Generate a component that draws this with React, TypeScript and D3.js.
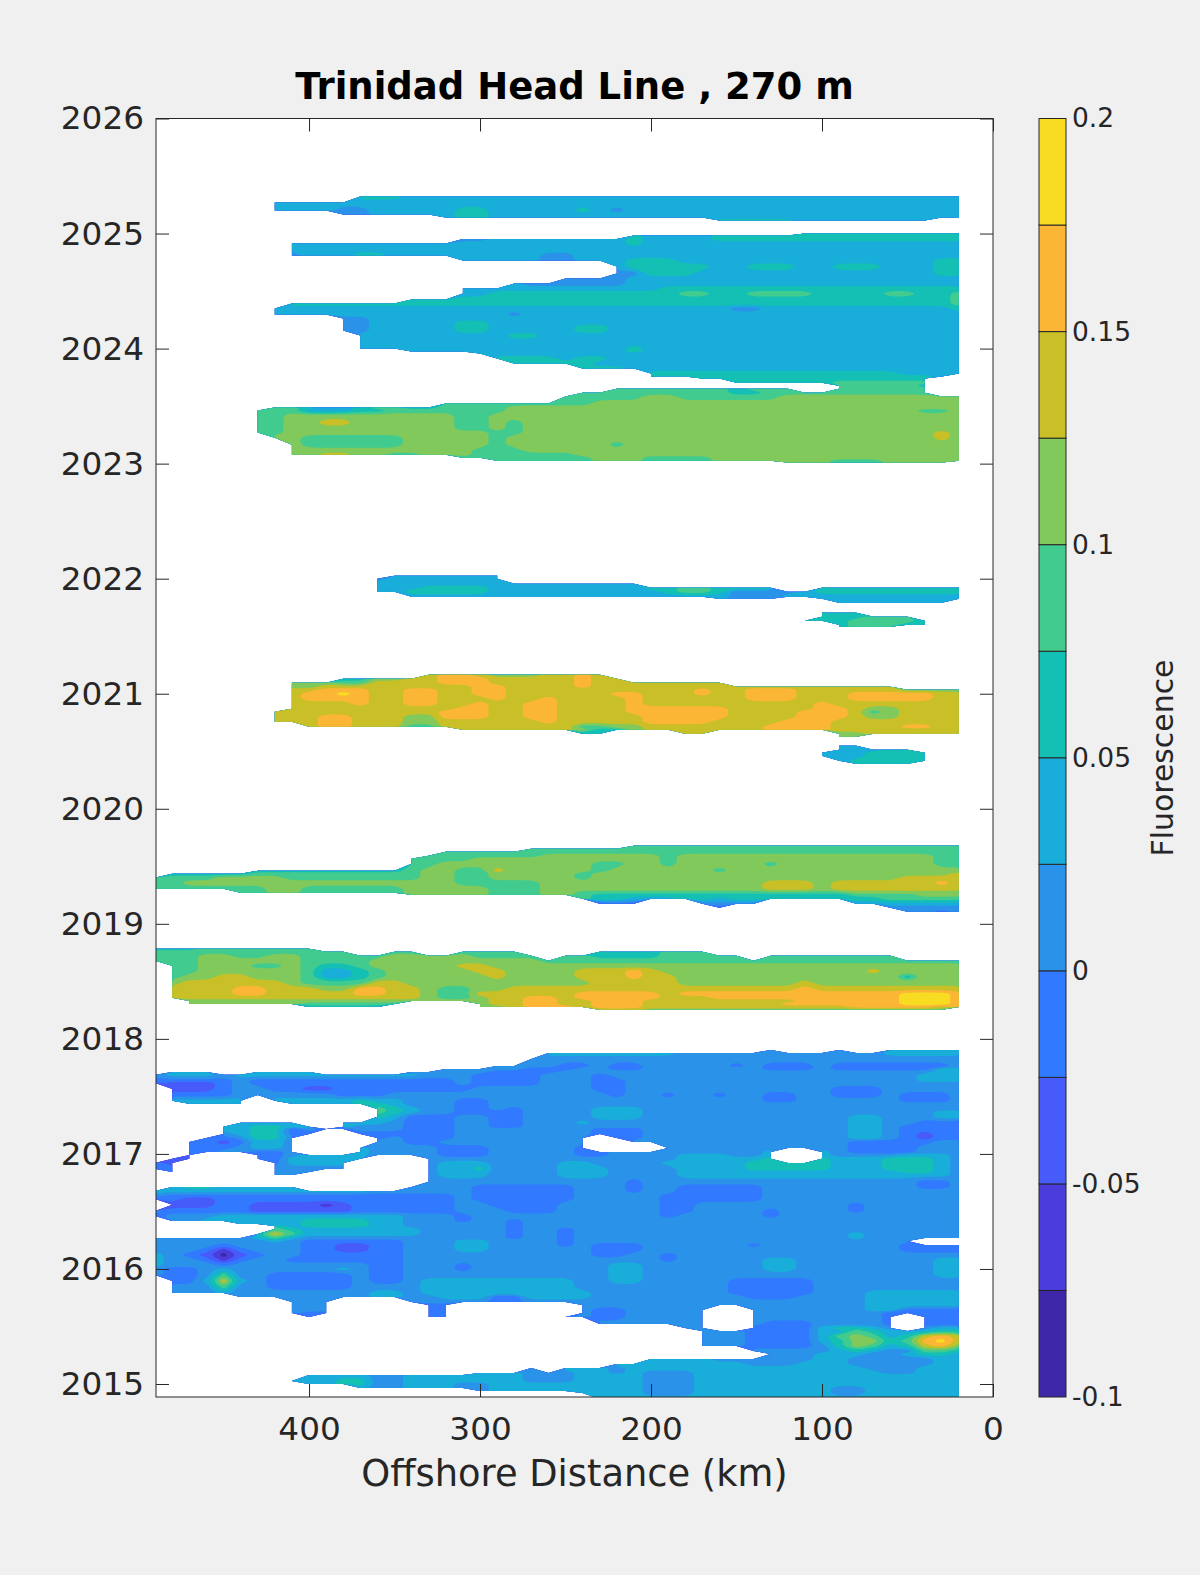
import React, { useEffect, useRef } from "react";
import * as d3 from "d3";

type Row = [number, string];

// Each row: [decimal year, "column:band" change points]. Column 0 is 490 km, column 47 is 20 km,
// one column every 10 km. "." means no data. A band char holds from its column until the next one.
const distanceStart = 490;
const distanceStep = 10;
const columnCount = 48;
const bandChars = "0123456789ab";

const levels = [-0.1, -0.075, -0.05, -0.025, 0, 0.025, 0.05, 0.075, 0.1, 0.125, 0.15, 0.175, 0.2];
const bandColors = [
  "#3e26a8", "#4a3ddc", "#475bfa", "#3179fe", "#2a92e8", "#18aed9",
  "#14bfb3", "#42cb8f", "#81c95a", "#c9bf26", "#fcb636", "#f7dc22",
];

const yearTicks = [2015, 2016, 2017, 2018, 2019, 2020, 2021, 2022, 2023, 2024, 2025, 2026];
const distanceTicks = [400, 300, 200, 100, 0];
const colorbarTicks = [-0.1, -0.05, 0, 0.05, 0.1, 0.15, 0.2];

const band2025: Row[] = [
  [2025.322, "12:6 15:5"],
  [2025.27, "7:5"],
  [2025.2, "7:5 11:4 13:5 18:6 20:5 25:6 26:5 27:4 28:5"],
  [2025.165, "11:4 13:5 18:6 20:5"],
  [2025.139, "17:5 18:6 20:5"],
  [2025.113, "33:6 38:5 46:."],
];

const band2024: Row[] = [
  [2025.0, "38:6"],
  [2024.983, "28:6 29:5 33:6"],
  [2024.952, "18:4 20:5 28:6 29:5 33:6"],
  [2024.913, "8:5 28:6 29:5"],
  [2024.861, "8:5"],
  [2024.809, "8:4 9:5 12:6 14:5 23:4 25:5"],
  [2024.765, "18:5 23:4 25:5 28:6 31:5 46:6"],
  [2024.713, "27:5 28:6 33:5 35:6 38:5 40:6 43:5 46:6"],
  [2024.652, "27:4 29:6 32:5 46:6"],
  [2024.609, "24:4 28:5"],
  [2024.565, "21:5 22:4 28:5"],
  [2024.522, "18:5 30:6"],
  [2024.478, "18:5 20:6 31:7 33:6 35:7 39:6 43:7 45:6 47:7"],
  [2024.426, "15:6 47:7"],
  [2024.391, "8:6 47:7"],
  [2024.348, "7:5 34:4 36:5 47:6"],
  [2024.296, "7:5 21:4 22:5"],
  [2024.261, "11:4 13:5"],
  [2024.226, "11:4 13:5 18:6 20:5"],
  [2024.191, "11:4 13:5 18:6 20:5 25:6 27:5"],
  [2024.157, "11:4 13:5 18:6 20:5 25:6 27:5"],
  [2024.113, "12:5 21:6 23:5"],
  [2024.061, "12:5"],
  [2024.0, "12:5 28:6 29:5"],
  [2023.974, "15:5 28:6 29:5"],
  [2023.957, "19:6 20:5"],
  [2023.913, "20:6 24:5 25:6 27:5"],
  [2023.87, "21:6 26:5"],
  [2023.826, "25:6 28:5"],
  [2023.783, "29:6 44:5"],
  [2023.757, "29:6 46:5 47:."],
  [2023.739, "32:6 46:."],
  [2023.704, "34:6 40:7 46:."],
  [2023.678, "40:7 45:6 46:."],
  [2023.652, "27:7 34:6 35:7 38:. 40:7 46:."],
  [2023.617, "25:7 34:6 36:7 46:."],
  [2023.583, "24:7 29:8 31:7 37:8"],
  [2023.522, "17:7 26:8"],
  [2023.487, "7:7 9:6 10:5 12:6 13:7 15:6 17:7 21:8"],
  [2023.461, "6:7 9:5 12:6 14:7 21:8 45:7 47:8"],
  [2023.417, "6:7 8:8 18:7 20:8"],
  [2023.357, "6:7 8:8 10:9 12:8 18:7 20:8 21:7 22:8"],
  [2023.304, "6:7 8:8 18:7 20:8 21:7 22:8"],
  [2023.27, "6:7 8:8 20:7 22:8 46:9 47:8"],
  [2023.226, "7:8 9:7 15:8 20:7 21:8 46:9 47:8"],
  [2023.165, "8:8 9:7 15:8 20:7 21:8 27:7 28:8"],
  [2023.113, "8:8 19:7 22:8"],
  [2023.078, "8:8 10:9 12:8 14:7 16:8 19:7 25:8"],
  [2023.052, "18:7 26:8 29:7 33:8"],
  [2023.026, "20:7 26:8 29:7 33:8 40:7 43:8"],
  [2023.009, "37:8 40:7 43:8 47:."],
];

const band2022: Row[] = [
  [2022.026, "14:5 21:."],
  [2022.0, "13:4 14:5 21:."],
  [2021.957, "13:5 29:."],
  [2021.922, "13:5 16:6 20:5 29:6 31:7 33:6 37:. 39:6"],
  [2021.887, "13:5 15:6 20:5 30:6 31:7 33:6 34:4 38:5 39:6"],
  [2021.843, "15:5 34:4 37:5"],
  [2021.826, "33:5 34:4 37:. 39:5"],
  [2021.791, "40:5 47:."],
];

const patch2021: Row[] = [
  [2021.704, "39:6 42:."],
  [2021.67, "39:6 42:7 45:."],
  [2021.635, "38:7 39:6 41:7 45:6 46:."],
  [2021.6, "40:6 41:7 44:6 46:."],
  [2021.583, "40:6 41:7 44:."],
];

const band2021: Row[] = [
  [2021.165, "16:9 17:a 19:9 20:8 23:9 25:a 26:9 27:."],
  [2021.13, "11:6 13:8 15:9 17:a 20:9 25:a 26:9 28:."],
  [2021.096, "8:8 11:7 13:9 17:a 20:9 25:a 26:9 34:."],
  [2021.061, "8:8 10:9 19:a 21:9 25:a 26:9 44:."],
  [2021.035, "8:9 10:a 13:9 15:a 17:9 19:a 21:9 32:a 33:9 35:a 38:9 44:8"],
  [2021.0, "8:9 9:a 11:b 12:a 13:9 15:a 17:9 19:a 21:9 27:a 29:9 32:a 33:9 35:a 38:9 41:a 46:9"],
  [2020.957, "8:9 9:a 13:9 15:a 17:9 20:a 21:9 23:a 24:9 28:a 29:9 35:a 38:9 41:a 46:9"],
  [2020.913, "8:9 12:a 13:9 15:a 17:9 19:a 20:9 22:a 24:9 28:a 29:9 39:a 40:9"],
  [2020.87, "8:9 18:a 20:9 22:a 24:9 28:a 34:9 39:a 41:9 42:8 44:9"],
  [2020.843, "7:9 17:a 20:9 22:a 24:9 28:a 34:9 38:a 41:9 42:7 43:8 44:9"],
  [2020.8, "7:9 10:a 12:9 15:8 17:a 20:9 22:a 24:9 29:a 34:9 38:a 41:9 42:8 44:9"],
  [2020.757, "7:9 10:a 12:9 15:8 17:9 23:a 24:9 29:a 33:9 37:a 40:9"],
  [2020.713, "9:9 10:a 12:9 15:7 17:9 25:7 27:8 29:9 36:a 40:9 44:a 46:9"],
  [2020.687, "18:9 25:8 26:6 28:8 29:9 36:a 40:9"],
  [2020.652, "25:6 27:. 31:9 33:. 40:8 42:9"],
  [2020.626, "40:8 42:."],
];

const patch2020: Row[] = [
  [2020.548, "40:5 42:."],
  [2020.513, "40:5 43:6 45:."],
  [2020.487, "39:5 42:6 46:."],
  [2020.461, "39:5 42:6 46:."],
  [2020.417, "40:5 41:6 46:."],
  [2020.391, "41:6 45:."],
];

const band2019: Row[] = [
  [2019.678, "28:7"],
  [2019.652, "22:7"],
  [2019.626, "17:7"],
  [2019.591, "16:7 23:8 30:7 31:8 46:7"],
  [2019.565, "15:7 19:8 30:7 31:8 46:7"],
  [2019.522, "15:7 17:8 26:7 28:8 30:7 31:8 36:7 37:8 46:7"],
  [2019.461, "6:6 15:7 16:8 18:7 20:9 21:8 26:7 27:8 33:7 34:8"],
  [2019.435, "1:6 6:7 16:8 18:7 20:8 25:7 26:8 47:9"],
  [2019.4, "0:7 4:8 8:7 16:8 18:7 20:8 25:7 26:8 44:9"],
  [2019.357, "0:7 2:8 18:7 23:8 36:9 39:8 40:9 46:a 47:9"],
  [2019.304, "0:7 7:8 9:7 15:8 20:7 23:8 36:9 39:8 40:9"],
  [2019.27, "5:7 7:8 9:7 15:8 20:7 23:8 25:7 41:8"],
  [2019.252, "15:8 20:7 23:8 25:7 26:6 41:7 45:8"],
  [2019.217, "25:7 26:6 28:5 31:6 33:5 34:6 43:7"],
  [2019.174, "26:3 29:. 32:4 36:. 41:5"],
  [2019.139, "33:3 34:. 43:4"],
  [2019.104, "44:4 46:3 47:4"],
];

const band2018: Row[] = [
  [2018.783, "0:6 3:7 10:."],
  [2018.757, "0:7 12:. 14:7 16:. 18:7 22:. 26:6 30:7 33:."],
  [2018.722, "0:7 3:8 5:7 7:8 9:7 14:8 19:7 23:. 24:7 26:6 30:7 35:. 36:7 44:."],
  [2018.678, "0:7 3:8 9:7 13:8 23:7"],
  [2018.635, "1:7 3:8 6:7 8:8 9:7 10:6 12:7 13:8 18:9 20:8"],
  [2018.591, "1:7 3:8 9:7 10:5 12:6 13:7 14:8 19:9 21:8 25:9 28:a 29:9 30:8 42:9 43:8"],
  [2018.539, "1:7 2:8 4:9 6:8 9:7 10:5 12:6 13:7 14:8 20:9 21:8 25:9 28:a 29:9 31:8 44:6 45:8"],
  [2018.487, "1:8 2:9 8:8 9:7 13:9 15:8 26:9 31:8 38:9 39:8"],
  [2018.435, "1:9 5:a 7:9 10:8 12:a 14:9 16:8 17:7 19:8 21:9 38:a 39:9"],
  [2018.391, "1:9 5:a 7:9 12:a 14:9 16:8 17:7 19:9 25:a 30:9 31:a 44:b 47:a"],
  [2018.357, "1:9 16:8 17:7 19:8 20:9 22:a 24:9 25:a 30:9 33:a 44:b 47:a"],
  [2018.33, "2:8 19:8 20:9 22:a 24:9 26:a 29:9 38:a 44:b 47:a"],
  [2018.304, "2:8 9:7 15:. 19:8 20:9 22:a 24:9 26:a 29:9 37:a 44:b 47:a"],
  [2018.278, "9:6 14:. 19:8 21:9 22:a 25:9 26:a 29:9 41:a 46:9 47:a"],
  [2018.252, "26:9 29:8 47:."],
];

const lower2017: Row[] = [
  [2017.904, "36:4 37:. 40:5 41:. 43:5"],
  [2017.878, "23:5 31:4 43:5"],
  [2017.826, "22:4"],
  [2017.765, "20:4 24:3 26:4 27:3 29:4 34:3 35:4 36:3 39:4 40:3 47:4"],
  [2017.739, "17:4 22:3 25:4 27:3 29:4 36:3 39:4 40:3 46:5"],
  [2017.713, "1:5 4:. 6:5 10:. 15:4 20:3 24:4 46:5"],
  [2017.687, "0:4 1:5 4:4 5:5 16:4 19:3 23:4 26:3 27:4 45:5"],
  [2017.635, "0:3 5:4 6:3 18:4 19:3 23:4 26:3 28:4 45:5"],
  [2017.617, "0:3 1:2 4:3 5:4 6:3 18:4 19:3 23:4 26:3 28:4"],
  [2017.565, "1:2 4:3 5:4 7:3 9:2 11:3 19:4 26:3 28:4 40:3 43:4"],
  [2017.513, "1:3 5:4 11:3 14:4 27:3 28:4 30:3 31:4 33:3 34:4 36:3 38:4 40:3 43:4 44:3 47:4"],
  [2017.461, "1:5 6:. 7:5 12:6 13:5 15:4 18:3 20:4 36:3 38:4 44:3 47:4"],
  [2017.435, "2:5 6:. 8:5 12:6 14:5 15:4 18:3 20:4"],
  [2017.391, "13:7 14:6 15:5 16:4 18:3 20:4 21:3 22:4 26:5 29:4"],
  [2017.365, "13:7 14:6 15:5 16:4 18:3 20:3 22:4 26:5 29:4 46:5"],
  [2017.322, "13:6 14:5 15:3 18:4 20:3 22:4 26:5 29:4 41:5 43:4 46:5"],
  [2017.27, "5:5 9:. 11:5 14:4 15:3 18:4 20:3 22:4 25:5 26:4 41:5 43:4 45:3"],
  [2017.235, "4:5 6:6 8:5 10:. 11:5 12:4 15:3 18:4 20:3 22:4 41:5 43:4 44:3"],
  [2017.217, "4:5 6:6 8:3 9:4 10:3 12:4 15:3 18:4 26:3 29:4 41:5 43:4 44:3"],
  [2017.174, "4:4 5:5 6:6 8:3 10:. 12:3 18:4 26:3 29:4 41:5 43:4 44:3 45:2 46:3"],
  [2017.139, "3:3 5:4 6:6 8:4 9:. 13:3 14:4 15:3 18:4 25:4 26:. 27:3 29:4 41:5 43:4 44:3 45:2 46:3"],
  [2017.104, "2:3 4:2 5:3 6:5 8:4 9:. 13:4 15:3 17:4 25:4 26:. 28:4 41:3 46:4"],
  [2017.052, "2:3 5:4 6:5 8:4 9:. 12:5 13:4 17:3 20:4 25:3 26:. 30:4 41:3 45:4"],
  [2017.017, "2:3 4:4 6:3 8:4 9:. 12:5 13:4 17:3 20:4 25:3 27:4 36:5 37:. 39:5 40:4 41:3 45:4"],
];

const lower2016: Row[] = [
  [2016.991, "2:3 3:. 6:3 8:4 9:5 13:4 17:3 20:4 25:3 27:4 31:5 34:4 36:5 37:. 39:5 40:4 44:5 47:4"],
  [2016.957, "1:2 3:. 6:3 8:5 13:. 16:4 24:4 31:5 36:6 37:. 39:6 40:5 43:6 46:5 47:4"],
  [2016.922, "0:3 1:2 2:. 7:3 8:5 12:. 16:4 17:5 20:4 24:5 26:4 30:5 35:6 40:5 43:6 46:5 47:4"],
  [2016.87, "0:3 2:. 7:4 12:. 16:4 17:5 19:6 20:4 24:5 27:4 31:5 35:6 40:5 43:6 46:5 47:4"],
  [2016.843, "1:3 2:. 7:4 10:. 16:4 17:5 20:4 24:5 27:4 31:5 44:6 46:5 47:4"],
  [2016.817, "7:4 9:. 16:4 17:5 20:4 24:5 27:4 31:5 47:4"],
  [2016.757, "16:4 28:3 29:4 45:3 47:4"],
  [2016.713, "1:5 2:6 4:5 9:. 15:4 19:3 25:4 28:3 29:4 31:3 36:4 45:3 47:4"],
  [2016.678, "0:5 13:4 19:3 25:4 28:3 29:4 31:3 36:4"],
  [2016.635, "0:4 1:3 18:4 19:3 25:4 30:3 36:4"],
  [2016.609, "0:3 2:2 4:3 18:4 19:3 25:4 30:3 36:4"],
  [2016.557, "1:2 4:3 6:2 10:1 11:2 12:3 18:4 20:3 24:4 30:3 32:4 41:3 42:4"],
  [2016.504, "0:4 1:3 6:2 12:3 18:4 21:3 24:4 30:3 32:4 36:3 37:4 41:3 42:4"],
  [2016.461, "0:3 1:4 4:5 15:4 18:3 19:4 30:3 31:4 36:3 37:4"],
  [2016.417, "1:4 3:5 9:6 13:5 15:4 18:3 19:4 21:3 22:4"],
  [2016.391, "5:5 9:6 13:5 15:4 21:3 22:4"],
  [2016.374, "7:6 8:5 9:6 13:5 15:4 21:3 22:4"],
  [2016.348, "7:7 8:6 9:5 16:4 21:3 22:4 24:3 25:4"],
  [2016.304, "6:6 7:9 8:7 9:5 16:4 21:3 22:4 24:3 25:4 41:5 42:4"],
  [2016.27, "0:4 6:5 7:7 8:5 9:4 21:3 22:4 24:3 25:4 41:5 42:4"],
  [2016.243, "0:4 7:5 8:4 9:3 15:4 18:5 20:4 24:3 25:4 45:."],
  [2016.209, "0:4 4:3 5:4 9:3 11:2 13:3 15:4 18:5 20:4 24:3 25:4 26:3 29:4 35:3 36:4 44:3"],
  [2016.165, "0:4 3:3 4:1 5:3 6:4 9:3 11:2 13:3 15:4 18:5 20:4 26:3 29:4 44:3"],
  [2016.122, "0:5 1:4 2:3 3:2 4:0 5:2 6:3 7:4 9:3 15:4 26:3 28:4 30:3 31:4"],
  [2016.078, "0:5 1:4 3:3 4:1 5:3 6:4 8:3 15:4 30:3 31:4 36:5 38:4 46:5"],
  [2016.035, "0:5 1:4 4:3 5:4 13:3 15:4 18:3 19:4 27:5 29:4 36:5 38:4 46:5"],
  [2016.0, "0:4 1:3 3:4 4:5 5:4 11:5 12:4 13:3 15:4 18:3 19:4 27:5 29:4 36:5 38:4 46:5"],
];

const lower2015: Row[] = [
  [2015.948, "0:4 1:3 3:4 4:7 5:4 7:3 12:4 13:3 15:4 27:5 29:4 46:5"],
  [2015.896, "1:3 3:5 4:9 5:5 6:4 7:3 12:4 13:3 15:4 16:5 25:4 27:5 29:4 34:3 39:4"],
  [2015.843, "1:4 4:7 5:4 7:3 12:4 16:5 25:4 34:3 39:4"],
  [2015.791, "1:4 4:5 5:4 13:5 15:4 16:5 26:4 34:3 39:4 42:5"],
  [2015.757, "5:4 13:5 15:4 17:5 20:3 22:5 26:4 35:3 38:4 42:5"],
  [2015.713, "8:4 11:. 15:4 20:3 22:4 42:5"],
  [2015.687, "8:4 11:. 16:3 18:. 25:4 42:5"],
  [2015.643, "8:4 11:. 16:3 18:. 25:4 26:3 28:4 33:. 35:4 42:5 44:3"],
  [2015.617, "8:4 9:3 11:. 16:3 18:. 25:4 26:3 28:4 33:. 35:4 43:3"],
  [2015.583, "9:3 10:. 16:3 18:. 24:3 25:4 26:3 28:4 33:. 35:4 43:3 44:. 45:3"],
  [2015.522, "26:4 33:. 35:4 36:3 39:4 43:3 44:. 45:3"],
  [2015.487, "31:4 33:. 35:3 39:5 40:6 42:5 43:4 44:. 45:4 46:5"],
  [2015.461, "32:4 35:3 39:5 41:7 42:6 43:5 46:6"],
  [2015.417, "32:4 35:3 39:5 40:7 41:8 42:7 43:5 44:6 45:9 46:a 47:9"],
  [2015.374, "32:4 35:3 39:5 40:6 41:8 43:6 44:7 45:a 46:b 47:9"],
  [2015.33, "32:4 35:3 39:4 40:6 41:8 42:7 43:5 44:6 45:9 46:a 47:8"],
  [2015.287, "35:4 40:5 41:6 42:5 43:4 45:7 47:6"],
  [2015.261, "36:4 39:5 42:4 44:5 45:6 47:5"],
  [2015.217, "29:5 33:4 39:5 41:4 46:5"],
  [2015.174, "27:5 35:4 38:5 41:4 46:5"],
  [2015.139, "22:5 23:. 24:5 27:4 28:5 42:4 45:5"],
  [2015.096, "19:5 22:4 25:5 27:4 28:5 29:4 32:5 43:4 45:5"],
  [2015.078, "9:5 13:4 15:5 22:4 25:5 29:4 32:5"],
  [2015.026, "8:5 11:6 13:4 15:5 22:4 25:5 29:4 32:5"],
  [2015.0, "9:5 11:6 13:4 15:5 18:4 20:5 29:4 32:5"],
  [2014.965, "12:5 13:4 15:5 18:4 20:5 29:4 32:5 40:4 42:5"],
  [2014.939, "19:4 20:5 29:4 32:5 40:4 42:5"],
  [2014.922, "25:5 29:4 32:5 40:4 42:5"],
  [2014.87, "26:5"],
];

// separate patches of data; an empty row goes between them
const sections: Row[][] = [
  band2025,
  band2024,
  band2022,
  patch2021,
  band2021,
  patch2020,
  band2019,
  band2018,
  [...lower2017, ...lower2016, ...lower2015],
];

function decodeCells(cells: string): number[] {
  const out: number[] = new Array(columnCount).fill(NaN);
  cells.split(" ").forEach((token) => {
    if (!token) return;
    const [col, ch] = token.split(":");
    const band = bandChars.indexOf(ch);
    const value = band < 0 ? NaN : (levels[band] + levels[band + 1]) / 2;
    for (let c = +col; c < columnCount; c++) out[c] = value;
  });
  return out;
}

// Rounds the corners of a contour ring. Vertices that sit on the edge of the data
// (both grid coordinates on a cell centre) stay put so the white gaps keep their outline.
type Vertex = { p: [number, number]; pinned: boolean };
function roundRing(ring: Vertex[], passes: number): Vertex[] {
  let pts = ring;
  for (let k = 0; k < passes; k++) {
    const next: Vertex[] = [];
    const n = pts.length;
    pts.forEach((v, i) => {
      if (v.pinned) {
        next.push(v);
        return;
      }
      const a = pts[(i - 1 + n) % n].p;
      const b = pts[(i + 1) % n].p;
      next.push({ p: [v.p[0] + 0.25 * (a[0] - v.p[0]), v.p[1] + 0.25 * (a[1] - v.p[1])], pinned: false });
      next.push({ p: [v.p[0] + 0.25 * (b[0] - v.p[0]), v.p[1] + 0.25 * (b[1] - v.p[1])], pinned: false });
    });
    pts = next;
  }
  return pts;
}

const WIDTH = 1200;
const HEIGHT = 1575;
const margin = { left: 156, right: 993, top: 118.5, bottom: 1397 };
const barLeft = 1039;
const barRight = 1066;
const textColor = "#262626";
const fontFamily = "'DejaVu Sans', sans-serif";

export default function App() {
  const svgRef = useRef<SVGSVGElement | null>(null);

  useEffect(() => {
    if (!svgRef.current) return;
    const svg = d3.select(svgRef.current);
    svg.selectAll("*").remove();

    const x = d3.scaleLinear().domain([489.5, 0]).range([margin.left, margin.right]);
    const y = d3.scaleLinear().domain([2026, 2014.887]).range([margin.top, margin.bottom]);
    const barY = d3.scaleLinear().domain([-0.1, 0.2]).range([margin.bottom, margin.top]);

    // Flatten the sections into a grid, padded with empty rows and columns
    const rowYears: number[] = [];
    const grid: number[] = [];
    const pushRow = (year: number, cells: number[]) => {
      rowYears.push(year);
      grid.push(NaN, ...cells, NaN);
    };
    const blank = new Array(columnCount).fill(NaN);
    sections.forEach((rows) => {
      pushRow(rows[0][0] + 0.01, blank);
      rows.forEach(([year, cells]) => pushRow(year, decodeCells(cells)));
    });
    pushRow(rowYears[rowYears.length - 1] - 0.01, blank);

    const yearAt = d3
      .scaleLinear()
      .domain(rowYears.map((_, i) => i))
      .range(rowYears);

    const contours = d3
      .contours()
      .size([columnCount + 2, rowYears.length])
      .thresholds(levels.slice(0, -1))(grid);

    const isCentre = (v: number) => Math.abs(v - Math.floor(v) - 0.5) < 1e-6;
    const line = d3.line();
    const contourPath = (geometry: any) =>
      geometry.coordinates
        .flatMap((polygon: [number, number][][]) =>
          polygon.map((ring) => {
            const vertices: Vertex[] = ring.slice(0, -1).map(([cx, cy]) => ({
              p: [x(distanceStart - (cx - 1.5) * distanceStep), y(yearAt(cy - 0.5))],
              pinned: isCentre(cx) && isCentre(cy),
            }));
            return line(roundRing(vertices, 3).map((v) => v.p)) + "Z";
          })
        )
        .join("");

    svg
      .append("rect")
      .attr("width", WIDTH)
      .attr("height", HEIGHT)
      .attr("fill", "#f0f0f0");

    svg
      .append("defs")
      .append("clipPath")
      .attr("id", "plot-clip")
      .append("rect")
      .attr("x", margin.left)
      .attr("y", margin.top)
      .attr("width", margin.right - margin.left)
      .attr("height", margin.bottom - margin.top);

    svg
      .append("rect")
      .attr("x", margin.left)
      .attr("y", margin.top)
      .attr("width", margin.right - margin.left)
      .attr("height", margin.bottom - margin.top)
      .attr("fill", "#ffffff");

    svg
      .append("g")
      .attr("clip-path", "url(#plot-clip)")
      .selectAll("path")
      .data(contours)
      .enter()
      .append("path")
      .attr("d", (d: any) => contourPath(d))
      .attr("fill", (_, i) => bandColors[i]);

    // Axes, with inward ticks on all four sides
    const styleAxis = (g: any, size: number) => {
      g.attr("font-family", fontFamily).attr("font-size", size).attr("color", textColor);
      g.select(".domain").remove();
      g.selectAll("line").attr("stroke", textColor).attr("stroke-width", 1);
      g.selectAll("text").attr("fill", textColor);
    };

    const bottom = svg
      .append("g")
      .attr("transform", `translate(0,${margin.bottom})`)
      .call(d3.axisBottom(x).tickValues(distanceTicks).tickFormat(d3.format("d") as any).tickSize(-13).tickPadding(20));
    styleAxis(bottom, 32.7);

    const top = svg
      .append("g")
      .attr("transform", `translate(0,${margin.top})`)
      .call(d3.axisTop(x).tickValues(distanceTicks).tickFormat(() => "").tickSize(-13));
    styleAxis(top, 32.7);

    const left = svg
      .append("g")
      .attr("transform", `translate(${margin.left},0)`)
      .call(d3.axisLeft(y).tickValues(yearTicks).tickFormat(d3.format("d") as any).tickSize(-13).tickPadding(12));
    styleAxis(left, 32.7);

    const right = svg
      .append("g")
      .attr("transform", `translate(${margin.right},0)`)
      .call(d3.axisRight(y).tickValues(yearTicks).tickFormat(() => "").tickSize(-13));
    styleAxis(right, 32.7);

    svg
      .append("rect")
      .attr("x", margin.left)
      .attr("y", margin.top)
      .attr("width", margin.right - margin.left)
      .attr("height", margin.bottom - margin.top)
      .attr("fill", "none")
      .attr("stroke", textColor)
      .attr("stroke-width", 1);

    // Colorbar
    svg
      .append("g")
      .selectAll("rect")
      .data(bandColors)
      .enter()
      .append("rect")
      .attr("x", barLeft)
      .attr("width", barRight - barLeft)
      .attr("y", (_, i) => barY(levels[i + 1]))
      .attr("height", (_, i) => barY(levels[i]) - barY(levels[i + 1]))
      .attr("fill", (d) => d)
      .attr("stroke", textColor)
      .attr("stroke-width", 1);

    const barAxis = svg
      .append("g")
      .attr("transform", `translate(${barRight},0)`)
      .call(
        d3
          .axisRight(barY)
          .tickValues(colorbarTicks)
          .tickFormat((d) => String(+d))
          .tickSize(0)
          .tickPadding(6)
      );
    styleAxis(barAxis, 26.5);

    svg
      .append("text")
      .attr("transform", `translate(1173,758) rotate(-90)`)
      .attr("text-anchor", "middle")
      .attr("font-family", fontFamily)
      .attr("font-size", 29.9)
      .attr("fill", textColor)
      .text("Fluorescence");

    svg
      .append("text")
      .attr("x", (margin.left + margin.right) / 2)
      .attr("y", 1486)
      .attr("text-anchor", "middle")
      .attr("font-family", fontFamily)
      .attr("font-size", 36.8)
      .attr("fill", textColor)
      .text("Offshore Distance (km)");

    svg
      .append("text")
      .attr("x", (margin.left + margin.right) / 2)
      .attr("y", 99)
      .attr("text-anchor", "middle")
      .attr("font-family", fontFamily)
      .attr("font-size", 37)
      .attr("font-weight", "bold")
      .attr("fill", "#000000")
      .text("Trinidad Head Line , 270 m");
  }, []);

  return (
    <svg
      ref={svgRef}
      width={WIDTH}
      height={HEIGHT}
      style={{ position: "absolute", left: 0, top: 0, display: "block" }}
    />
  );
}
